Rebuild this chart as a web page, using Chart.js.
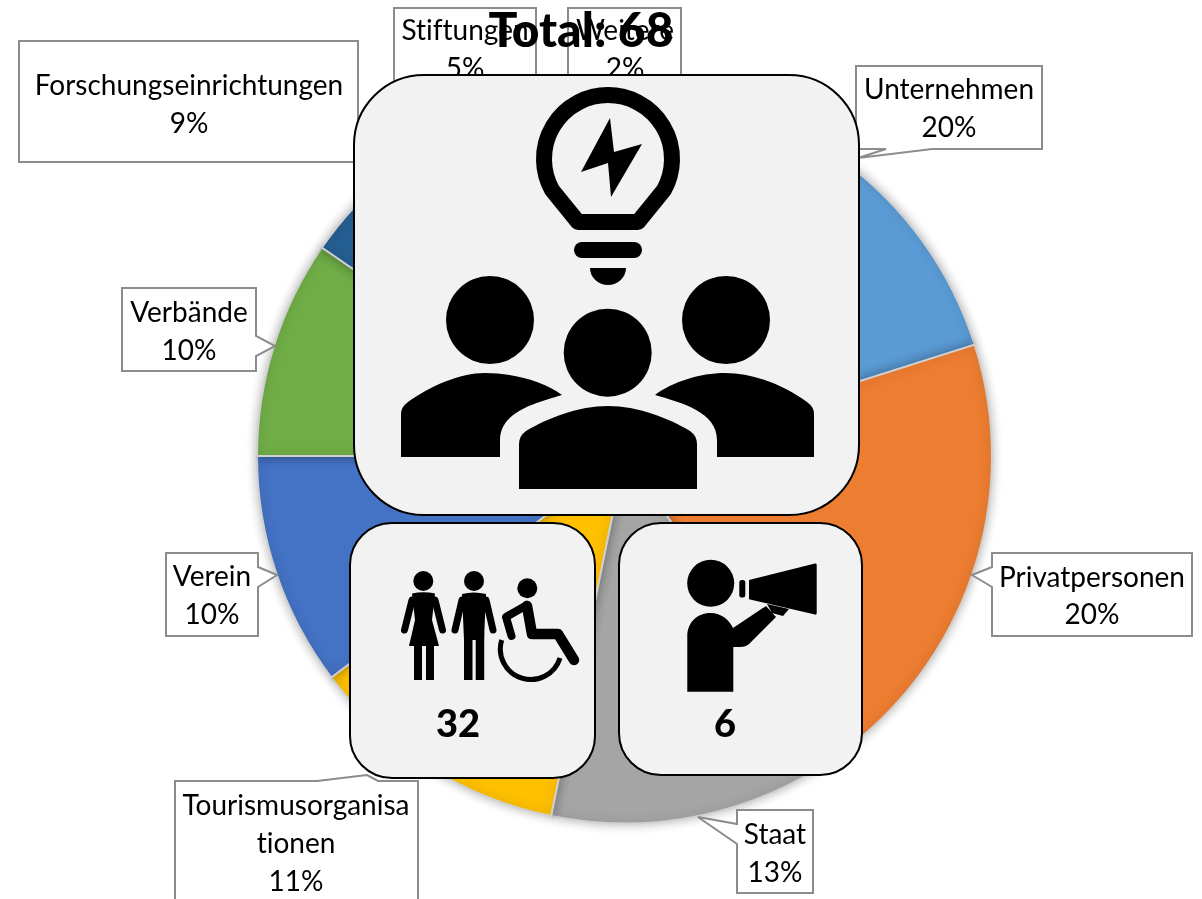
<!DOCTYPE html>
<html lang="de">
<head>
<meta charset="utf-8">
<title>Total: 68</title>
<script src="https://cdn.jsdelivr.net/npm/chart.js@4"></script>
<style>
html,body{margin:0;padding:0;background:#fff;overflow:hidden;width:1202px;height:899px}
#wrap{position:relative;width:1202px;height:899px}
canvas{position:absolute;left:0;top:0}
svg{position:absolute;left:0;top:0}
text{font-family:Lato,"Open Sans",sans-serif;fill:#000;text-anchor:middle;font-variant-ligatures:none}
</style>
</head>
<body>
<div id="wrap">
<canvas id="pie" width="1202" height="899"></canvas>
<svg id="over" width="1202" height="899" viewBox="0 0 1202 899" xmlns="http://www.w3.org/2000/svg"></svg>
</div>
<script>
// ---- data ----
const categories = ["Unternehmen","Privatpersonen","Staat","Tourismusorganisationen","Verein","Verbände","Forschungseinrichtungen","Stiftungen","Weitere"];
const sliceShares = [20.1,20.1,13.0,11.5,10.3,9.6,9.0,4.8,1.6];
const percentLabels = ["20%","20%","13%","11%","10%","10%","9%","5%","2%"];
const sliceColours = ["#5B9BD5","#ED7D31","#A5A5A5","#FFC000","#4472C4","#70AD47","#255E91","#9E480E","#636363"];
const titleText = "Total: 68";
const panelCounts = ["32","6"];

// ---- pie through Chart.js ----
const softShadow = {
  id:"softShadow",
  beforeDatasetsDraw(c){ c.ctx.save(); c.ctx.shadowColor="rgba(0,0,0,.28)"; c.ctx.shadowBlur=11; c.ctx.shadowOffsetX=0; c.ctx.shadowOffsetY=0; },
  afterDatasetsDraw(c){ c.ctx.restore(); }
};
new Chart(document.getElementById("pie"),{
  type:"pie",
  data:{labels:categories,datasets:[{data:sliceShares,backgroundColor:sliceColours,borderColor:"#D0D0D0",borderWidth:2,radius:367.5}]},
  options:{responsive:false,animation:false,
    layout:{padding:{left:47,top:13,right:0,bottom:0}},
    plugins:{legend:{display:false},tooltip:{enabled:false},title:{display:false}}},
  plugins:[softShadow]
});

// ---- callouts and panels ----
const NS="http://www.w3.org/2000/svg";
const svg=document.getElementById("over");
function el(tag,attrs,parent){const e=document.createElementNS(NS,tag);for(const k in attrs)e.setAttribute(k,attrs[k]);(parent||svg).appendChild(e);return e;}
function txt(s,x,y,size,weight){const t=el("text",{x:x,y:y,"font-size":size,"font-weight":weight||400});t.textContent=s;return t;}

const calloutPaths=[
 "M856 66H1042V149H932L858 158L886 149H856Z",
 "M992 553H1192V636H992V587L972 575L992 567Z",
 "M737 810H813V893H737V844L698 817L737 824Z",
 "M175 781H317L367 775L378 781H418V915H175Z",
 "M166 553H258V567L277 575L258 587V636H166Z",
 "M122 288H256V336L275 346L256 356V371H122Z",
 "M19 41H358V162H19Z",
 "M394 8H536V100H394Z",
 "M568 8H681V100H568Z"
];
const calloutLines=[
 [["Unternehmen"],949,[99,137]],
 [["Privatpersonen"],1092,[587,624]],
 [["Staat"],775,[844,882]],
 [["Tourismusorganisa","tionen"],296,[815,853,891]],
 [["Verein"],212,[586,624]],
 [["Verbände"],189,[322,360]],
 [["Forschungseinrichtungen"],189,[95,133]],
 [["Stiftungen"],465,[40,78]],
 [["Weitere"],625,[40,78]]
];
const labelSize=28;
calloutPaths.forEach((d,i)=>{
  el("path",{d:d,fill:"#fff",stroke:"#8C8C8C","stroke-width":2});
});
calloutLines.forEach((c,i)=>{
  const lines=c[0].concat(percentLabels[i]);
  lines.forEach((s,j)=>txt(s,c[1],c[2][j],labelSize));
});
txt(titleText,581,47,48,900);

function panel(x,y,w,h,r){el("rect",{x:x,y:y,width:w,height:h,rx:r,ry:r,fill:"#F2F2F2",stroke:"#000","stroke-width":2});}
panel(354,75,505,440,70);
panel(350,523,245,255,42);
panel(619,523,243,252,42);

// light bulb
el("path",{d:"M578 222H638L664 190A64 64 0 1 0 552 190Z",fill:"none",stroke:"#000","stroke-width":16,"stroke-linejoin":"round"});
el("path",{d:"M610 118L614 152L642 144L611 197L608 163L581 172Z",fill:"#000"});
el("rect",{x:574,y:242,width:68,height:16,rx:8,fill:"#000"});
el("path",{d:"M590 268H626A18 17 0 0 1 590 268Z",fill:"#000"});
// three people
[[490,320],[607.7,352.7],[726,320]].forEach(p=>el("circle",{cx:p[0],cy:p[1],r:44,fill:"#000"}));
el("path",{d:"M401 457V414Q401 407 408 402C430 386 460 373 485 373C515 373 545 382 562 395C535 403 500 412 500 440V457Z",fill:"#000"});
el("path",{d:"M814 457V414Q814 407 807 402C785 386 755 373 725 373C700 373 672 382 655 395C682 403 717 412 717 440V457Z",fill:"#000"});
el("path",{d:"M519 489V444Q519 436 526 431C548 418 578 406 608 406C638 406 668 418 690 431Q697 436 697 444V489Z",fill:"#000"});

// woman, man, wheelchair user
[[423.3,581],[474,581],[527.3,588.3]].forEach(p=>el("circle",{cx:p[0],cy:p[1],r:10,fill:"#000"}));
el("path",{d:"M404.5 630L412 600M442.5 630L435 600",stroke:"#000","stroke-width":7,"stroke-linecap":"round",fill:"none"});
el("path",{d:"M412 593.5Q423.5 591 435 593.5L432 620L439 646H409L415 620Z",fill:"#000"});
el("rect",{x:414,y:646,width:8,height:34,fill:"#000"});
el("rect",{x:426,y:646,width:8,height:34,fill:"#000"});
el("path",{d:"M455 630L462 600M493 630L486 600",stroke:"#000","stroke-width":7,"stroke-linecap":"round",fill:"none"});
el("path",{d:"M462 594Q474 591 486 594L484 640H464Z",fill:"#000"});
el("rect",{x:464,y:633,width:8.5,height:47,fill:"#000"});
el("rect",{x:475.7,y:633,width:8.5,height:47,fill:"#000"});
el("path",{d:"M527 606L532 634H558L574 660",stroke:"#000","stroke-width":10.5,"stroke-linecap":"round","stroke-linejoin":"round",fill:"none"});
el("path",{d:"M527 605L506 617L511.5 636",stroke:"#000","stroke-width":8,"stroke-linecap":"round","stroke-linejoin":"round",fill:"none"});
el("path",{d:"M501.7 640A30 30 0 0 0 560 658",stroke:"#000","stroke-width":5,fill:"none"});
txt(panelCounts[0],458,737,38,900);

// person with megaphone
el("circle",{cx:710.7,cy:583.3,r:23.5,fill:"#000"});
el("path",{d:"M687.3 691.7V636C687.3 622 698 613 710 613C722 613 729 620 733 628L766 606L776 617L749 644Q746 647 740 647H733.3V691.7Z",fill:"#000"});
el("path",{d:"M749 580L815 563.5Q816.7 563 816.7 565V613Q816.7 615 815 614.6L749 599.3Z",fill:"#000"});
el("rect",{x:739.3,y:580,width:6,height:17.5,rx:2.5,fill:"#000"});
el("path",{d:"M767 604L789 609L783 616L772 613Z",fill:"#000"});
txt(panelCounts[1],725,737,38,900);
</script>
</body>
</html>
